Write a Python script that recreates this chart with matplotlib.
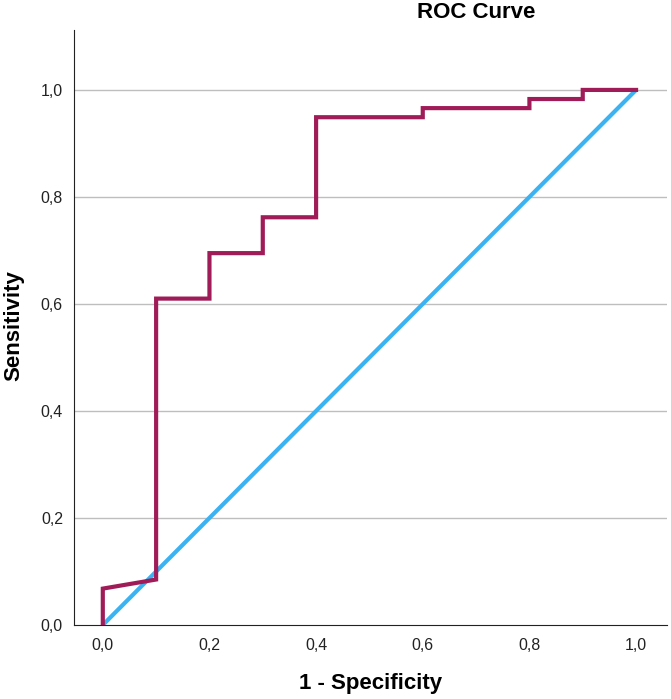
import numpy as np
import matplotlib.pyplot as plt
from matplotlib.ticker import FuncFormatter

# pontos da curva ROC (1 - especificidade, sensibilidade)
fpr = [0.0, 0.0, 0.1, 0.1, 0.2, 0.2, 0.3, 0.3, 0.4, 0.4, 0.6, 0.6, 0.8, 0.8, 0.9, 0.9, 1.0]
tpr = [0.0, 0.068, 0.085, 0.610, 0.610, 0.695, 0.695, 0.762, 0.762, 0.949, 0.949, 0.966, 0.966, 0.983, 0.983, 1.0, 1.0]
ref_line = [0.0, 1.0]
ticks = [0.0, 0.2, 0.4, 0.6, 0.8, 1.0]

fig = plt.figure(figsize=(6.71, 6.99), dpi=100)
ax = fig.add_axes([74/671, 74/699, 593/671, 595/699])

ax.plot(ref_line, ref_line, color='#3BB3F3', linewidth=3, solid_capstyle='butt', zorder=3)
ax.plot(fpr, tpr, color='#A01C58', linewidth=3, solid_joinstyle='miter', zorder=4)

ax.set_xlim(-0.054, 1.058)
ax.set_ylim(0, 1.112)
ax.set_xticks(ticks)
ax.set_yticks(ticks)
fmt = FuncFormatter(lambda v, p: f'{v:.1f}'.replace('.', ','))
ax.xaxis.set_major_formatter(fmt)
ax.yaxis.set_major_formatter(fmt)
ax.tick_params(length=0, labelsize=11.5, colors='#222222')
ax.tick_params(axis='x', pad=9)
ax.tick_params(axis='y', pad=8)

for v in ticks[1:]:
    ax.axhline(v, color='#BEBEBE', linewidth=1, zorder=1)

ax.spines['top'].set_visible(False)
ax.spines['right'].set_visible(False)
ax.spines['left'].set_color('#222222')
ax.spines['bottom'].set_color('#222222')

fig.text(476/671, 1 - 12/699, 'ROC Curve', ha='center', va='center', fontsize=16, fontweight='bold',
         family='Liberation Sans')
fig.text(371/671, 1 - 684/699, '1 - Specificity', ha='center', va='center', fontsize=16, fontweight='bold',
         family='Liberation Sans')
fig.text(14/671, 1 - 326/699, 'Sensitivity', ha='center', va='center', rotation=90, fontsize=16,
         fontweight='bold', family='Liberation Sans')
for lab in ax.get_xticklabels() + ax.get_yticklabels():
    lab.set_family('Liberation Sans')

plt.savefig('out.png', dpi=100)
